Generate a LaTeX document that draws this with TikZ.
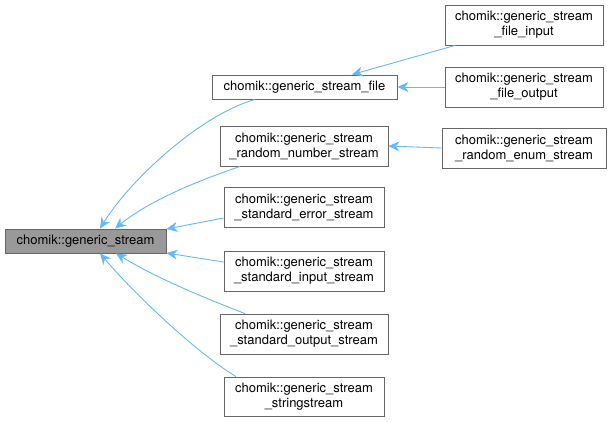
\documentclass[tikz,border=0pt]{standalone}
\usepackage{fontspec}
\setmainfont{TeX Gyre Heros}
\usetikzlibrary{arrows.meta}
\definecolor{edgeblue}{HTML}{63B8FF}
\definecolor{boxborder}{HTML}{666666}
\definecolor{basefill}{HTML}{999999}
\begin{document}
\begin{tikzpicture}[x=1pt,y=-1pt,
  cls/.style={draw=boxborder, line width=0.9pt, fill=white, inner sep=0pt, align=center,
    font=\fontsize{13}{15}\selectfont},
  edge/.style={draw=edgeblue, line width=0.9pt, {Stealth[length=11pt,width=10pt,fill=edgeblue]}-}]
\useasboundingbox (0,0) rectangle (609,421);
\node[cls, fill=basefill, minimum width=161pt, minimum height=24pt] (base) at (85.5,241) {chomik::generic\_stream};
\node[cls, minimum width=185pt, minimum height=24pt] (file) at (304.5,87) {chomik::generic\_stream\_file};
\node[cls, minimum width=168pt, minimum height=40pt] (rnd) at (304,146) {chomik::generic\_stream\\\_random\_number\_stream};
\node[cls, minimum width=160pt, minimum height=40pt] (err) at (304,207) {chomik::generic\_stream\\\_standard\_error\_stream};
\node[cls, minimum width=160pt, minimum height=40pt] (inp) at (304,271) {chomik::generic\_stream\\\_standard\_input\_stream};
\node[cls, minimum width=168pt, minimum height=40pt] (out) at (304,334) {chomik::generic\_stream\\\_standard\_output\_stream};
\node[cls, minimum width=160pt, minimum height=39pt] (str) at (304,396.5) {chomik::generic\_stream\\\_stringstream};
\node[cls, minimum width=158pt, minimum height=40pt] (fin) at (524,25) {chomik::generic\_stream\\\_file\_input};
\node[cls, minimum width=158pt, minimum height=40pt] (fout) at (524,87) {chomik::generic\_stream\\\_file\_output};
\node[cls, minimum width=164pt, minimum height=40pt] (enum) at (524,148) {chomik::generic\_stream\\\_random\_enum\_stream};

\draw[edge] (base.north -| 100,0) .. controls (130,180) and (200,115) .. (file.south -| 255,0);
\draw[edge] (base.north -| 115,0) .. controls (150,200) and (200,180) .. (rnd.south -| 240,0);
\draw[edge] (base.east |- 0,229) -- (err.west |- 0,218);
\draw[edge] (base.east |- 0,253) -- (inp.west |- 0,262);
\draw[edge] (base.south -| 116,0) .. controls (160,280) and (210,300) .. (out.north -| 245,0);
\draw[edge] (base.south -| 100,0) .. controls (140,300) and (200,355) .. (str.north -| 236,0);
\draw[edge] (file.north -| 352,0) -- (fin.south -| 455,0);
\draw[edge] (file.east) -- (fout.west);
\draw[edge] (rnd.east) -- (enum.west);
\end{tikzpicture}
\end{document}
